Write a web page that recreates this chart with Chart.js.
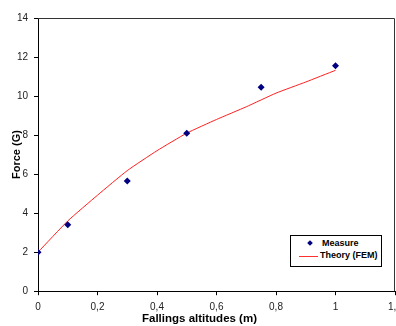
<!DOCTYPE html>
<html>
<head>
<meta charset="utf-8">
<script src="https://cdn.jsdelivr.net/npm/chart.js@4/dist/chart.umd.min.js"></script>
<style>
  html, body { margin: 0; padding: 0; background: #fff; overflow: hidden; }
  #wrap { position: relative; width: 396px; height: 326px; overflow: hidden; }
  #legend {
    position: absolute; left: 290px; top: 235px; width: 92px; height: 32px;
    border: 1px solid #000; background: #fff; box-sizing: border-box;
    font: bold 9px "Liberation Sans", Arial, sans-serif; color: #000;
  }
  .row { position: absolute; left: 0; height: 11px; line-height: 11px; }
  .diamond { position: absolute; left: 17px; top: 3px; width: 4px; height: 4px; background: #000080; transform: rotate(45deg); }
  .redline { position: absolute; left: 8px; top: 6px; width: 19px; height: 0; border-top: 1px solid #ff3030; }
</style>
</head>
<body>
<div id="wrap">
  <canvas id="myChart" width="399" height="326"></canvas>
  <div id="legend">
    <div class="row" style="top:2px;width:90px"><span class="diamond"></span><span style="position:absolute;left:31px">Measure</span></div>
    <div class="row" style="top:14px;width:90px"><span class="redline"></span><span style="position:absolute;left:29px">Theory (FEM)</span></div>
  </div>
</div>
<script>
var measureX = [0, 0.1, 0.3, 0.5, 0.75, 1.0];
var measureY = [2.0, 3.4, 5.65, 8.1, 10.45, 11.55];

var theoryX = [0, 0.1, 0.2, 0.3, 0.4, 0.5, 0.6, 0.7, 0.8, 0.9, 1.0];
var theoryY = [2.0, 3.6, 4.92, 6.18, 7.2, 8.1, 8.8, 9.45, 10.15, 10.72, 11.32];

function toPoints(xs, ys) {
  var pts = [];
  for (var i = 0; i < xs.length; i++) {
    pts.push({x: xs[i], y: ys[i]});
  }
  return pts;
}

var tickFont = {family: '"Liberation Sans", Arial, sans-serif', size: 10};

// border round the plot area (top and right edges)
var frame = {
  id: 'frame',
  beforeDatasetsDraw: function(chart) {
    var a = chart.chartArea;
    var ctx = chart.ctx;
    ctx.save();
    ctx.strokeStyle = '#333';
    ctx.lineWidth = 1;
    ctx.beginPath();
    ctx.moveTo(a.left, a.top + 0.5);
    ctx.lineTo(a.right - 0.5, a.top + 0.5);
    ctx.lineTo(a.right - 0.5, a.bottom);
    ctx.stroke();
    ctx.restore();
  }
};

var ctx = document.getElementById('myChart').getContext('2d');
var myChart = new Chart(ctx, {
  type: 'scatter',
  data: {
    datasets: [
      {
        label: 'Measure',
        data: toPoints(measureX, measureY),
        pointStyle: 'rectRot',
        pointRadius: 3.5,
        backgroundColor: '#000080',
        borderColor: '#000080',
        borderWidth: 0,
        showLine: false,
        order: 0
      },
      {
        label: 'Theory (FEM)',
        data: toPoints(theoryX, theoryY),
        showLine: true,
        pointRadius: 0,
        borderColor: '#ff2020',
        borderWidth: 1,
        tension: 0.15,
        order: 1
      }
    ]
  },
  options: {
    responsive: false,
    animation: false,
    layout: {padding: {top: 18, right: 0, left: 0, bottom: 0}},
    plugins: {
      legend: {display: false},
      tooltip: {enabled: false},
      title: {
        display: true,
        position: 'bottom',
        text: 'Fallings altitudes (m)',
        color: '#000',
        font: {family: '"Liberation Sans", Arial, sans-serif', size: 11.5, weight: 'bold'},
        padding: {top: 0, bottom: 0}
      }
    },
    scales: {
      x: {
        type: 'linear',
        min: 0,
        max: 1.2,
        ticks: {
          stepSize: 0.2,
          color: '#222',
          font: tickFont,
          padding: 6,
          maxRotation: 0,
          callback: function(v) { return Number(v.toFixed(1)).toString().replace('.', ','); }
        },
        grid: {drawOnChartArea: false, color: '#000', tickLength: 4},
        border: {color: '#000'},
        afterFit: function(s) { s.height = 21; s.paddingLeft = 0; s.paddingRight = 0; }
      },
      y: {
        min: 0,
        max: 14,
        ticks: {stepSize: 2, color: '#222', font: tickFont, padding: 6},
        grid: {drawOnChartArea: false, color: '#000', tickLength: 4},
        border: {color: '#000'},
        title: {
          display: true,
          text: 'Force (G)',
          color: '#000',
          font: {family: '"Liberation Sans", Arial, sans-serif', size: 11, weight: 'bold'},
          padding: {top: 10, bottom: 0}
        },
        afterFit: function(s) { s.width = 38; s.paddingTop = 0; s.paddingBottom = 0; }
      }
    }
  },
  plugins: [frame]
});
</script>
</body>
</html>
